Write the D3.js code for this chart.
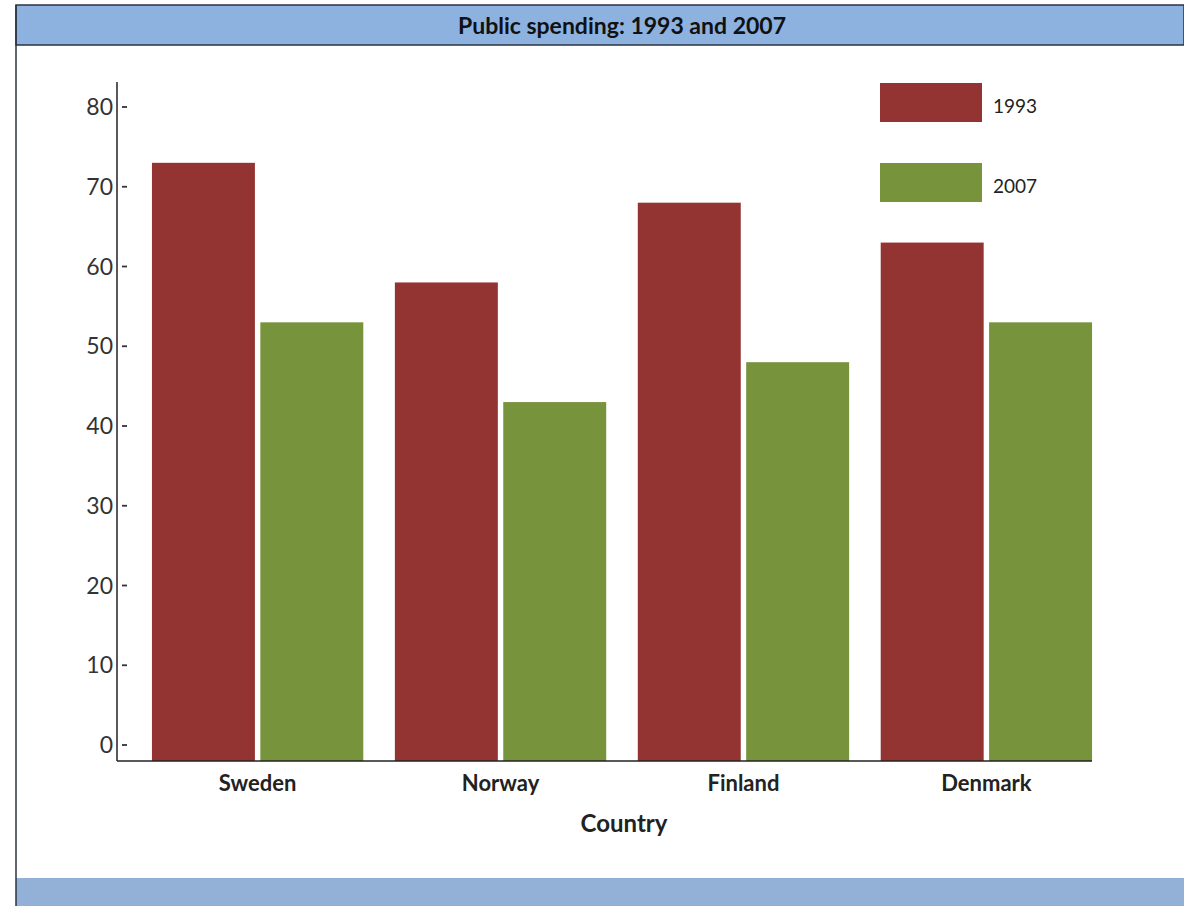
<!DOCTYPE html>
<html>
<head>
<meta charset="utf-8">
<title>Public spending: 1993 and 2007</title>
<script src="https://d3js.org/d3.v7.min.js"></script>
<style>
  body { margin: 0; background: #fff; }
  svg { display: block; font-family: Lato, "Open Sans", sans-serif; }
</style>
</head>
<body>
<div id="chart"></div>
<script>
var countries = ["Sweden", "Norway", "Finland", "Denmark"];
var years = ["1993", "2007"];
var spending1993 = [73, 58, 68, 63];
var spending2007 = [53, 43, 48, 53];
var yTicks = [0, 10, 20, 30, 40, 50, 60, 70, 80];
var colors = ["#933432", "#77933c"];

var width = 1184, height = 906;
var axisX = 117, axisY = 761, axisTop = 82, axisRight = 1092;

var svg = d3.select("#chart").append("svg")
    .attr("width", width)
    .attr("height", height);

// header and footer bands
svg.append("rect").attr("x", 16).attr("y", 5).attr("width", width - 16).attr("height", 40)
    .attr("fill", "#8eb2df").attr("stroke", "#2b3440").attr("stroke-width", 1.5);
svg.append("rect").attr("x", 16).attr("y", 878).attr("width", width - 16).attr("height", 30)
    .attr("fill", "#93b1d6");
svg.append("line").attr("x1", 16).attr("x2", 16).attr("y1", 5).attr("y2", height)
    .attr("stroke", "#2b3440").attr("stroke-width", 1.5);

svg.append("text")
    .attr("x", 622).attr("y", 34)
    .attr("text-anchor", "middle")
    .attr("font-size", 23).attr("font-weight", "bold")
    .attr("fill", "#111")
    .text("Public spending: 1993 and 2007");

var y = d3.scaleLinear().domain([0, 80]).range([745, 107]);

var x0 = d3.scaleBand().domain(countries).range([116, 1128])
    .paddingInner(0.13).paddingOuter(0.148);
var x1 = d3.scaleBand().domain(years).range([0, x0.bandwidth()]).paddingInner(0.05);

var rows = countries.map(function(c, i) {
  return {country: c, values: [spending1993[i], spending2007[i]]};
});

var groups = svg.selectAll("g.group").data(rows).enter().append("g")
    .attr("class", "group")
    .attr("transform", function(d) { return "translate(" + x0(d.country) + ",0)"; });

groups.selectAll("rect").data(function(d) {
    return d.values.map(function(v, j) { return {year: years[j], value: v, i: j}; });
  }).enter().append("rect")
    .attr("x", function(d) { return x1(d.year); })
    .attr("y", function(d) { return y(d.value); })
    .attr("width", x1.bandwidth())
    .attr("height", function(d) { return axisY - y(d.value); })
    .attr("fill", function(d) { return colors[d.i]; });

// axes
svg.append("line").attr("x1", axisX).attr("x2", axisX).attr("y1", axisTop).attr("y2", axisY)
    .attr("stroke", "#222").attr("stroke-width", 1.5);
svg.append("line").attr("x1", axisX).attr("x2", axisRight).attr("y1", axisY).attr("y2", axisY)
    .attr("stroke", "#222").attr("stroke-width", 1.5);

var ticks = svg.selectAll("g.ytick").data(yTicks).enter().append("g")
    .attr("class", "ytick")
    .attr("transform", function(d) { return "translate(0," + y(d) + ")"; });
ticks.append("text")
    .attr("x", 113).attr("dy", "0.35em")
    .attr("text-anchor", "end")
    .attr("font-size", 23).attr("fill", "#333")
    .text(function(d) { return d; });
ticks.append("line").attr("x1", 122).attr("x2", 127)
    .attr("stroke", "#333").attr("stroke-width", 1.8);

svg.selectAll("text.xlabel").data(countries).enter().append("text")
    .attr("class", "xlabel")
    .attr("x", function(d) { return x0(d) + x0.bandwidth() / 2; })
    .attr("y", 791)
    .attr("text-anchor", "middle")
    .attr("font-size", 22).attr("font-weight", "bold").attr("fill", "#222")
    .text(function(d) { return d; });

svg.append("text")
    .attr("x", 624).attr("y", 832)
    .attr("text-anchor", "middle")
    .attr("font-size", 24).attr("font-weight", "bold").attr("fill", "#222")
    .text("Country");

// legend
var legend = svg.selectAll("g.legend").data(years).enter().append("g")
    .attr("class", "legend")
    .attr("transform", function(d, i) { return "translate(880," + (83 + i * 80) + ")"; });
legend.append("rect").attr("width", 102).attr("height", 39)
    .attr("fill", function(d, i) { return colors[i]; });
legend.append("text").attr("x", 113).attr("y", 30)
    .attr("font-size", 19).attr("fill", "#222")
    .text(function(d) { return d; });
</script>
</body>
</html>
